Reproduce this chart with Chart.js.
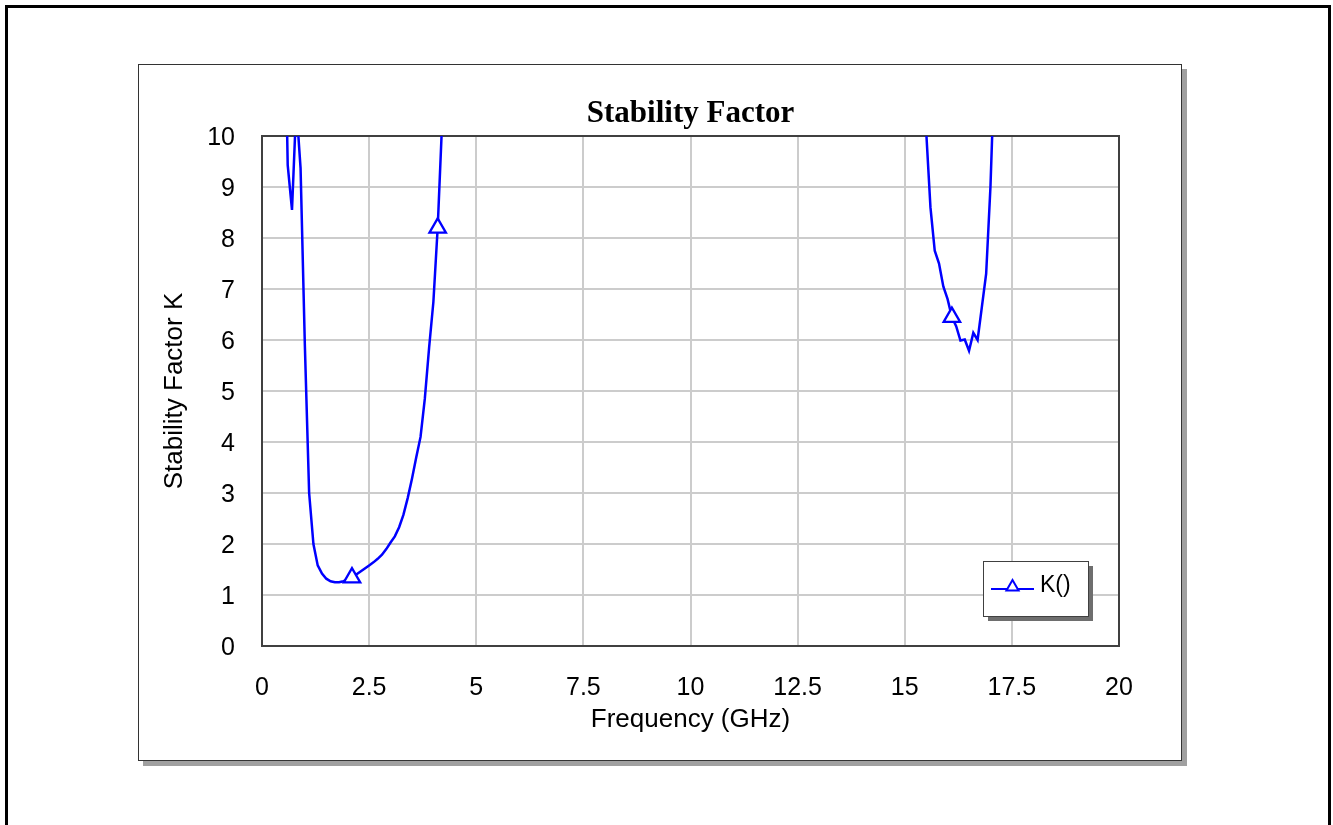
<!DOCTYPE html>
<html>
<head>
<meta charset="utf-8">
<title>Stability Factor</title>
<script src="https://cdn.jsdelivr.net/npm/chart.js@4.4.1/dist/chart.umd.min.js"></script>
<style>
    body { margin: 0; background: #fff; width: 1333px; height: 825px; overflow: hidden; position: relative; }
    .outer-frame { position: absolute; left: 5px; top: 5px; width: 1320px; height: 840px; border: 3px solid #000; }
    .panel { position: absolute; left: 138px; top: 64px; width: 1042px; height: 695px; border: 1px solid #333; background: #fff; box-shadow: 5px 5px 0 #a0a0a0; }
    #stabilityChart { position: absolute; left: 0; top: 0; }
</style>
</head>
<body>
<div class="outer-frame"></div>
<div class="panel"></div>
<canvas id="stabilityChart" width="1333" height="825"></canvas>
<script>
// K() sampled every 0.1 GHz; values above 10 run off the top of the plot
const lowBandFreq = [0.5, 0.6, 0.7, 0.8, 0.9, 1.0, 1.1, 1.2, 1.3, 1.4, 1.5, 1.6, 1.7, 1.8, 1.9, 2.0,
    2.1, 2.2, 2.3, 2.4, 2.5, 2.6, 2.7, 2.8, 2.9, 3.0, 3.1, 3.2, 3.3, 3.4, 3.5, 3.6, 3.7, 3.8, 3.9,
    4.0, 4.1, 4.2, 4.3];
const lowBandK = [14, 9.43, 8.55, 10.6, 9.37, 5.9, 3.0, 2.0, 1.58, 1.42, 1.32, 1.27, 1.25, 1.25, 1.27, 1.3,
    1.34, 1.4, 1.46, 1.52, 1.58, 1.64, 1.71, 1.79, 1.9, 2.03, 2.15, 2.33, 2.57, 2.9, 3.28, 3.7, 4.1, 4.85, 5.85,
    6.75, 8.2, 10.2, 13];
const highBandFreq = [15.4, 15.5, 15.6, 15.7, 15.8, 15.9, 16.0, 16.1, 16.2, 16.3, 16.4, 16.5, 16.6, 16.7,
    16.8, 16.9, 17.0, 17.1];
const highBandK = [14, 10.1, 8.6, 7.75, 7.5, 7.05, 6.8, 6.45, 6.27, 5.99, 6.01, 5.79, 6.14, 6.0,
    6.65, 7.3, 9.0, 11.5];
const markerFreqs = [2.1, 4.1, 16.1];

const seriesLabel = 'K()';
const chartTitle = 'Stability Factor';
const xTitle = 'Frequency (GHz)';
const yTitle = 'Stability Factor K';

const BLUE = '#0000ff';
const SANS = '"Liberation Sans", Arial, sans-serif';

// build point list, break the line where K is far above the plot
const points = lowBandFreq.map((f, i) => ({ x: f, y: lowBandK[i] }))
    .concat([{ x: 10, y: null }])
    .concat(highBandFreq.map((f, i) => ({ x: f, y: highBandK[i] })));

function isMarker(ctx) {
    const p = ctx.raw;
    return p && markerFreqs.some(m => Math.abs(m - p.x) < 1e-6);
}

const plotFrame = {
    id: 'plotFrame',
    beforeDatasetsDraw(chart) {
        const { ctx, chartArea: a } = chart;
        ctx.save();
        ctx.strokeStyle = '#404040';
        ctx.lineWidth = 2;
        ctx.strokeRect(a.left, a.top, a.right - a.left, a.bottom - a.top);
        ctx.restore();
    }
};

const boxLegend = {
    id: 'boxLegend',
    afterDraw(chart) {
        const { ctx, chartArea: a } = chart;
        const w = 105, h = 55;
        const x = a.right - 31 - w, y = a.bottom - 30 - h;
        ctx.save();
        ctx.fillStyle = '#6e6e6e';
        ctx.fillRect(x + 5, y + 5, w, h);
        ctx.fillStyle = '#fff';
        ctx.fillRect(x, y, w, h);
        ctx.strokeStyle = '#404040';
        ctx.lineWidth = 1;
        ctx.strokeRect(x + 0.5, y + 0.5, w, h);

        const ly = y + 28;
        ctx.strokeStyle = BLUE;
        ctx.lineWidth = 2;
        ctx.beginPath();
        ctx.moveTo(x + 8, ly);
        ctx.lineTo(x + 51, ly);
        ctx.stroke();
        // small triangle marker
        const cx = x + 29.5, r = 7;
        ctx.beginPath();
        for (let k = 0; k < 3; k++) {
            const ang = k * 2 * Math.PI / 3;
            const px = cx + Math.sin(ang) * r, py = ly - 2 - Math.cos(ang) * r;
            k === 0 ? ctx.moveTo(px, py) : ctx.lineTo(px, py);
        }
        ctx.closePath();
        ctx.fillStyle = '#fff';
        ctx.fill();
        ctx.stroke();

        ctx.fillStyle = '#000';
        ctx.font = '23px ' + SANS;
        ctx.textBaseline = 'middle';
        ctx.fillText(seriesLabel, x + 57, y + 25);
        ctx.restore();
    }
};

const ctx = document.getElementById('stabilityChart').getContext('2d');
new Chart(ctx, {
    type: 'line',
    data: {
        datasets: [{
            label: seriesLabel,
            data: points,
            borderColor: BLUE,
            borderWidth: 2.5,
            tension: 0,
            spanGaps: false,
            fill: false,
            pointStyle: 'triangle',
            pointRadius: c => isMarker(c) ? 9.5 : 0,
            pointHoverRadius: 0,
            pointBorderWidth: 2.3,
            pointBorderColor: BLUE,
            pointBackgroundColor: '#fff'
        }]
    },
    options: {
        responsive: false,
        animation: false,
        events: [],
        layout: { padding: { left: 0, right: 214, top: 0, bottom: 0 } },
        plugins: {
            legend: { display: false },
            tooltip: { enabled: false },
            title: {
                display: true,
                text: chartTitle,
                fullSize: false,
                color: '#000',
                font: { family: '"Liberation Serif", "Times New Roman", serif', size: 31, weight: 'bold', lineHeight: 1.2 },
                padding: { top: 95.6, bottom: 3.2 }
            }
        },
        scales: {
            x: {
                type: 'linear',
                min: 0,
                max: 20,
                afterFit: s => { s.height = 179; },
                ticks: { stepSize: 2.5, color: '#000', padding: 27, font: { family: SANS, size: 25 } },
                grid: { color: '#cccccc', lineWidth: 2, drawTicks: false },
                border: { display: false },
                title: { display: true, text: xTitle, color: '#000', font: { family: SANS, size: 26, lineHeight: 1.2 }, padding: { top: 0, bottom: 89.4 } }
            },
            y: {
                min: 0,
                max: 10,
                afterFit: s => { s.width = 262; },
                ticks: { stepSize: 1, color: '#000', padding: 27, labelOffset: 2, font: { family: SANS, size: 25 } },
                grid: { color: '#cccccc', lineWidth: 2, drawTicks: false },
                border: { display: false },
                title: { display: true, text: yTitle, color: '#000', font: { family: SANS, size: 26, lineHeight: 1.2 }, padding: { top: 159.4, bottom: 0 } }
            }
        }
    },
    plugins: [plotFrame, boxLegend]
});
</script>
</body>
</html>
